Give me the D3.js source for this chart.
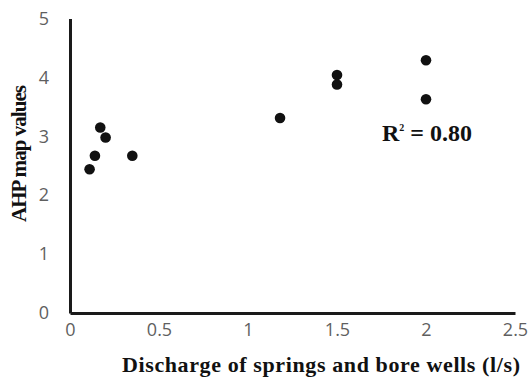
<!DOCTYPE html>
<html lang="en">
<head>
    <meta charset="UTF-8">
    <title>AHP map values vs discharge</title>
    <script src="https://d3js.org/d3.v7.min.js"></script>
    <style>
        body { margin: 0; background: #fff; }
        .tick text { font-family: "Open Sans", sans-serif; fill: #5f5f5f; }
        .title { font-family: "Liberation Serif", "Times New Roman", serif; font-weight: bold; fill: #111; }
        .domain { stroke: #1a1a1a; stroke-width: 3px; }
    </style>
</head>
<body>
    <svg id="chart" width="531" height="377"></svg>

    <script>
        // data
        const discharge = [0.11, 0.14, 0.17, 0.2, 0.35, 1.18, 1.5, 1.5, 2.0, 2.0];
        const ahpValues = [2.44, 2.67, 3.15, 2.98, 2.67, 3.31, 3.88, 4.04, 3.63, 4.29];
        const xTicks = [0, 0.5, 1, 1.5, 2, 2.5];
        const yTicks = [0, 1, 2, 3, 4, 5];

        const svg = d3.select("#chart");

        const x = d3.scaleLinear().domain([0, 2.5]).range([70, 515]);
        const y = d3.scaleLinear().domain([0, 5]).range([313, 18.5]);

        // x axis
        const xAxis = svg.append("g")
            .attr("transform", `translate(0,${y(0)})`)
            .call(d3.axisBottom(x).tickValues(xTicks).tickFormat(d3.format("~g")).tickSize(0).tickPadding(10));
        xAxis.select(".domain").attr("stroke", "#1a1a1a").attr("stroke-width", 3);
        xAxis.selectAll("text").style("font-size", "18px");

        // y axis
        const yAxis = svg.append("g")
            .attr("transform", `translate(${x(0)},0)`)
            .call(d3.axisLeft(y).tickValues(yTicks).tickFormat(d3.format("~g")).tickSize(0).tickPadding(21));
        yAxis.select(".domain").attr("stroke", "#1a1a1a").attr("stroke-width", 3);
        yAxis.selectAll("text").style("font-size", "18px");

        // points
        svg.selectAll("circle")
            .data(discharge.map((d, i) => ({ x: d, y: ahpValues[i] })))
            .enter()
            .append("circle")
            .attr("cx", d => x(d.x))
            .attr("cy", d => y(d.y))
            .attr("r", 5.3)
            .attr("fill", "#111");

        // axis titles
        svg.append("text")
            .attr("class", "title")
            .attr("x", 122)
            .attr("y", 372)
            .attr("textLength", 398)
            .attr("lengthAdjust", "spacing")
            .style("font-size", "22px")
            .text("Discharge of springs and bore wells (l/s)");

        svg.append("text")
            .attr("class", "title")
            .attr("transform", "translate(26,222) rotate(-90)")
            .attr("textLength", 137)
            .attr("lengthAdjust", "spacing")
            .style("font-size", "21px")
            .text("AHP map values");

        // R squared label
        const r2 = svg.append("text")
            .attr("class", "title")
            .attr("x", 382)
            .attr("y", 141)
            .style("font-size", "24px");
        r2.append("tspan").text("R");
        r2.append("tspan").attr("dy", -10).style("font-size", "10px").text("2");
        r2.append("tspan").attr("dy", 10).text(" = 0.80");
    </script>
</body>
</html>
